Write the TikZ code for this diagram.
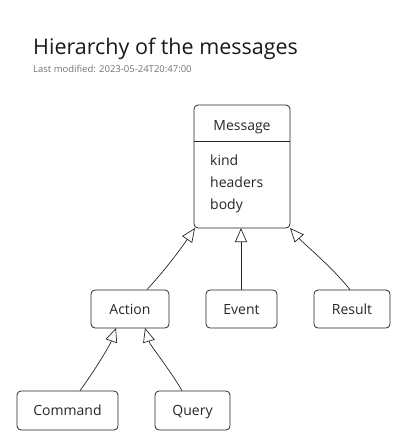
\documentclass[tikz,border=0pt]{standalone}
\usepackage{fontspec}
\setmainfont{Open Sans}
\usetikzlibrary{arrows.meta,decorations.pathmorphing}
\begin{document}
\begin{tikzpicture}[x=1pt,y=-1pt,
  cls/.style={draw=black!85,line width=0.8pt,rounded corners=4pt,inner sep=0pt,font=\fontsize{14}{16}\selectfont,text=black!85,text height=11pt,text depth=1pt},
  lbl/.style={font=\fontsize{14}{16}\selectfont,text=black!85,inner sep=0pt},
  inh/.style={draw=black!85,line width=0.7pt,-{Triangle[open,length=14pt,width=12pt]}}]
\useasboundingbox (0,0) rectangle (401,440);
\node[anchor=base west,font=\fontsize{21.5}{25}\selectfont,text=black!90,inner sep=0pt] (title) at (33,54) {Hierarchy of the messages};
\node[anchor=base west,font=\fontsize{9.5}{11}\selectfont,text=black!55,inner sep=0pt] (sub) at (33,72) {Last modified: 2023-05-24T20:47:00};
% Message class
\node[cls,minimum width=96pt,minimum height=123pt] (msg) at (242,166.5) {};
\draw[black!85,line width=0.8pt] (msg.west |- 0,141) -- (msg.east |- 0,141);
\node[lbl,anchor=base] (mname) at (242,130) {Message};
\node[lbl,anchor=base west] (a1) at (210,165) {kind};
\node[lbl,anchor=base west] (a2) at (210,187) {headers};
\node[lbl,anchor=base west] (a3) at (210,209) {body};
% children
\node[cls,minimum width=78pt,minimum height=38pt] (act) at (130,309) {Action};
\node[cls,minimum width=71pt,minimum height=38pt] (evt) at (241.5,309) {Event};
\node[cls,minimum width=76pt,minimum height=38pt] (res) at (352,309) {Result};
\node[cls,minimum width=101pt,minimum height=39pt] (cmd) at (67.5,410.5) {Command};
\node[cls,minimum width=75pt,minimum height=39pt] (qry) at (192.5,410.5) {Query};
% connectors
\coordinate (m1) at (195,228);
\coordinate (m2) at (241,228);
\coordinate (m3) at (290,228);
\coordinate (a1t) at (116,328);
\coordinate (a2t) at (145,328);
\draw[inh] (act.north -| 147,0) .. controls (165,270) and (180,250) .. (m1);
\draw[inh] (evt.north -| 241,0) -- (m2);
\draw[inh] (res.north -| 350,0) .. controls (330,265) and (305,245) .. (m3);
\draw[inh] (cmd.north -| 80,0) .. controls (95,370) and (110,345) .. (a1t);
\draw[inh] (qry.north -| 182,0) .. controls (170,370) and (150,345) .. (a2t);
\end{tikzpicture}
\end{document}
